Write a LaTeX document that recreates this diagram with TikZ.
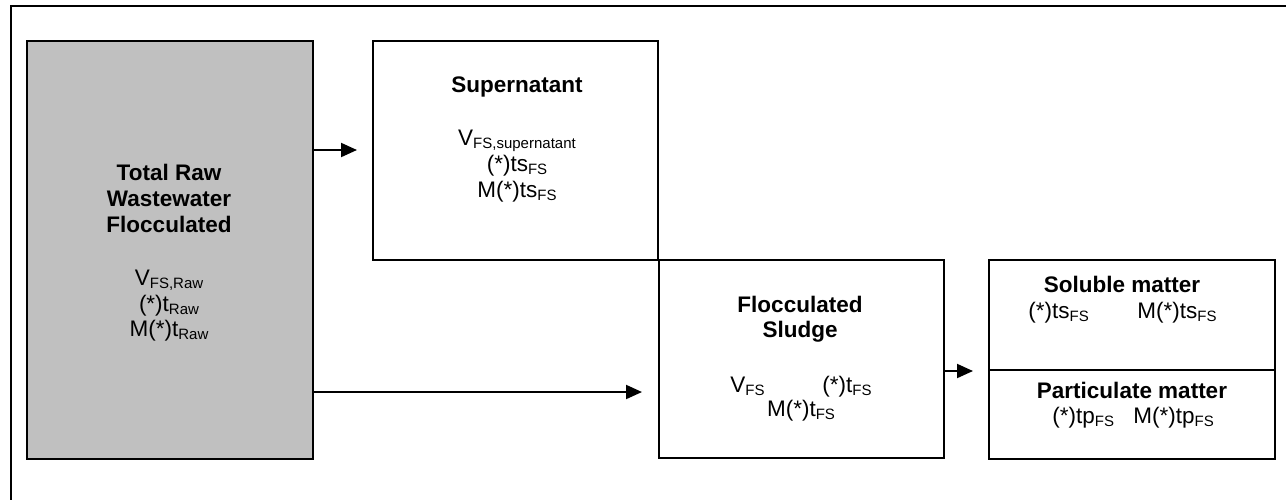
\documentclass[tikz,border=0pt]{standalone}
\usepackage{fontspec}
\setmainfont{Liberation Sans}
\usetikzlibrary{arrows.meta}
\definecolor{boxgray}{HTML}{C0C0C0}
\newcommand{\lsub}[1]{\raisebox{-1.5pt}{\fontsize{7.5}{8}\selectfont #1}}
\begin{document}
\begin{tikzpicture}[x=0.5pt,y=-0.5pt,
  box/.style={draw=black, line width=1pt, rectangle, inner sep=0pt, anchor=north west},
  txt/.style={inner sep=0pt, anchor=base, font=\fontsize{11.25}{13}\selectfont},
  txtw/.style={txt, anchor=base west},
  ttl/.style={inner sep=0pt, anchor=base, font=\fontsize{11.25}{13}\selectfont\bfseries},
  arr/.style={line width=1pt, -{Triangle[length=8pt,width=7pt]}}]
\useasboundingbox (0,0) rectangle (1286,500);
\draw[line width=1pt] (1286,6) -- (11,6) -- (11,500);
% boxes
\node[box, fill=boxgray, minimum width=143pt, minimum height=209pt] (raw) at (26,40) {};
\node[box, minimum width=142.5pt, minimum height=109.5pt] (super) at (372,40) {};
\node[box, minimum width=142.5pt, minimum height=99pt] (sludge) at (658,259) {};
\node[box, minimum width=143pt, minimum height=55pt] (soluble) at (988,259) {};
\node[box, minimum width=143pt, minimum height=44.5pt] (partic) at (988,369) {};
% texts
\node[ttl] (r1) at (169,180) {Total Raw};
\node[ttl] (r2) at (169,206) {Wastewater};
\node[ttl] (r3) at (169,232) {Flocculated};
\node[txt] (r4) at (169,285) {V\lsub{FS,Raw}};
\node[txt] (r5) at (169,311) {(*)t\lsub{Raw}};
\node[txt] (r6) at (169,336) {M(*)t\lsub{Raw}};
\node[ttl] (s1) at (517,92) {Supernatant};
\node[txt] (s2) at (517,145) {V\lsub{FS,supernatant}};
\node[txt] (s3) at (517,171) {(*)ts\lsub{FS}};
\node[txt] (s4) at (517,197) {M(*)ts\lsub{FS}};
\node[ttl] (f1) at (800,312) {Flocculated};
\node[ttl] (f2) at (800,337) {Sludge};
\node[txtw] (f3) at (730,392) {V\lsub{FS}};
\node[txtw] (f4) at (822,392) {(*)t\lsub{FS}};
\node[txt] (f5) at (801,416) {M(*)t\lsub{FS}};
\node[ttl] (p1) at (1122,292) {Soluble matter};
\node[txtw] (p2) at (1028,318) {(*)ts\lsub{FS}};
\node[txtw] (p3) at (1137,318) {M(*)ts\lsub{FS}};
\node[ttl] (p4) at (1132,398) {Particulate matter};
\node[txtw] (p5) at (1052,423) {(*)tp\lsub{FS}};
\node[txtw] (p6) at (1133,423) {M(*)tp\lsub{FS}};
% arrows
\coordinate (y1) at (0,150);
\coordinate (y2) at (0,392);
\draw[arr, shorten >=7.5pt] (raw.east |- y1) -- (super.west |- y1);
\draw[arr, shorten >=8pt] (raw.east |- y2) -- (sludge.west |- y2);
\draw[arr, shorten >=7.5pt] (sludge.east |- soluble.south) -- (soluble.south west);
\end{tikzpicture}
\end{document}
